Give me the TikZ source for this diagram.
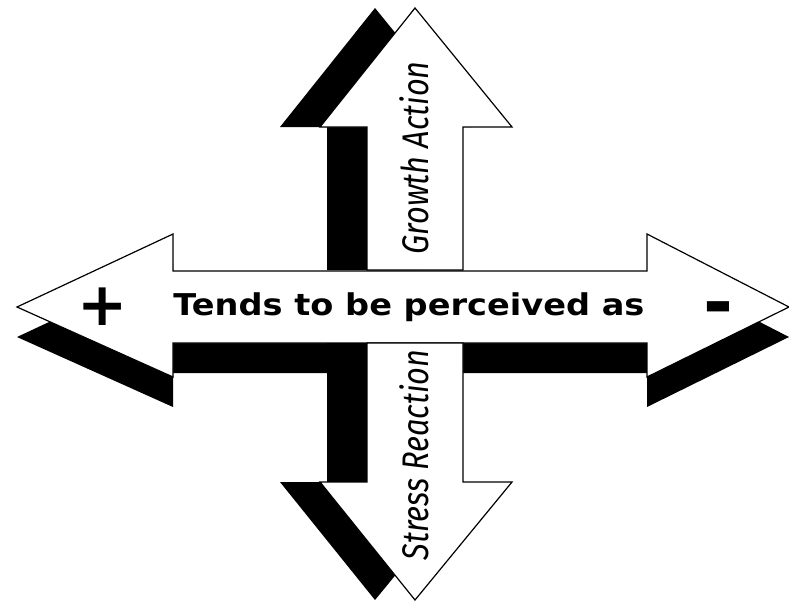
\documentclass[tikz,border=0pt]{standalone}
\usepackage{fontspec}
\setmainfont{DejaVu Sans}
\newfontfamily\sidefont{Fira Sans}
\usepackage{tikz}
\usetikzlibrary{calc}
\tikzset{
  arw/.style={draw=black,fill=white,line width=1.2pt,line join=miter},
  shd/.style={fill=black},
  mainlbl/.style={font=\fontsize{30}{30}\selectfont\bfseries,inner sep=0pt},
  sidelbl/.style={font=\sidefont\itshape\fontsize{37}{37}\selectfont,rotate=90,inner sep=0pt},
  sign/.style={inner sep=0pt}
}
\newcommand{\narrowtxt}[1]{\scalebox{0.83}[1]{#1}}
\newcommand{\widetxt}[1]{\scalebox{1.12}[1]{#1}}

\begin{document}
\begin{tikzpicture}[x=1pt,y=-1pt]
\useasboundingbox (0,0) rectangle (789,600);
% up arrow and its shadow
\fill[shd,shift={(-40,0)}] (415,8)--(512,127)--(463,127)--(463,270)--(367,270)--(367,127)--(320,127)--cycle;
\draw[arw] (415,8)--(512,127)--(463,127)--(463,270)--(367,270)--(367,127)--(320,127)--cycle;
% double arrow and its shadow
\fill[shd,shift={(0,30)}] (17,307)--(173,234)--(173,271)--(647,271)--(647,234)--(789,307)--(647,377)--(647,343)--(173,343)--(173,377)--cycle;
\draw[arw] (17,307)--(173,234)--(173,271)--(647,271)--(647,234)--(789,307)--(647,377)--(647,343)--(173,343)--(173,377)--cycle;
% down arrow and its shadow
\fill[shd,shift={(-40,0)}] (367,343)--(463,343)--(463,482)--(512,482)--(415,600)--(320,482)--(367,482)--cycle;
\draw[arw] (367,343)--(463,343)--(463,482)--(512,482)--(415,600)--(320,482)--(367,482)--cycle;
% labels
\node[mainlbl,anchor=base] (tends) at (409,315) {\widetxt{Tends to be perceived as}};
\node[sign,font=\fontsize{60}{60}\selectfont\bfseries] (plus) at (103,307) {+};
\node[sign,font=\fontsize{72}{72}\selectfont\bfseries,anchor=base] (minus) at (718,327) {-};
\node[sidelbl] (growth) at (414,158) {\narrowtxt{Growth Action}};
\node[sidelbl] (stress) at (414,455) {\narrowtxt{Stress Reaction}};
\end{tikzpicture}
\end{document}
